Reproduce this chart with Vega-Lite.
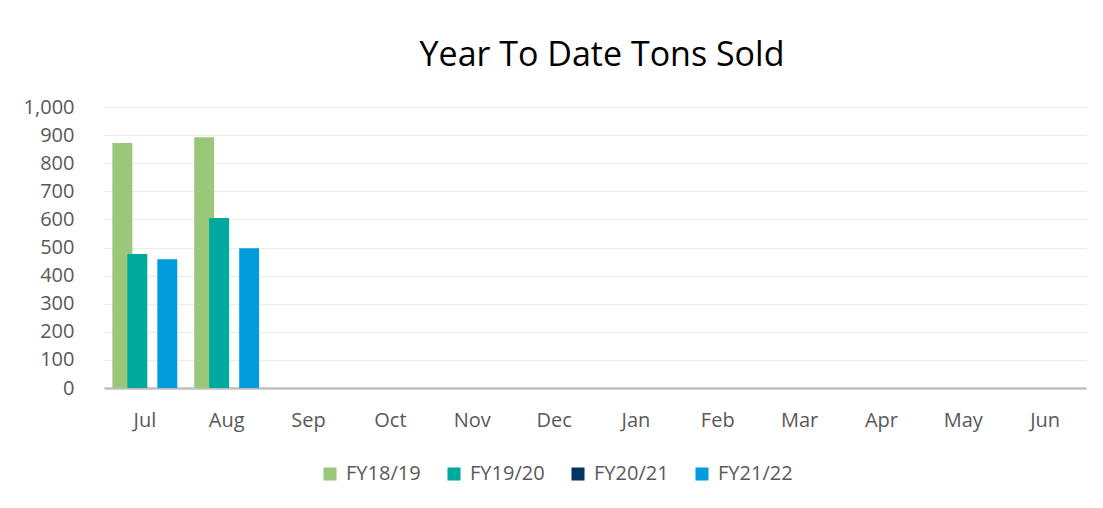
{
  "$schema": "https://vega.github.io/schema/vega-lite/v6.json",
  "autosize": "none",
  "width": 982,
  "height": 281,
  "padding": {"left": 104, "top": 107, "right": 17, "bottom": 120},
  "background": "white",
  "title": {
    "text": "Year To Date Tons Sold",
    "font": "Open Sans",
    "fontSize": 34,
    "fontWeight": "normal",
    "color": "#000000",
    "offset": 24,
    "dx": 7
  },
  "config": {
    "view": {"stroke": null},
    "axis": {"labelFont": "Open Sans", "labelFontSize": 20, "labelColor": "#595959"},
    "legend": {"labelFont": "Open Sans", "labelFontSize": 20, "labelColor": "#595959"}
  },
  "data": {
    "values": [
      {"month": "Jul", "series": "FY18/19", "tons": 872},
      {"month": "Aug", "series": "FY18/19", "tons": 892},
      {"month": "Jul", "series": "FY19/20", "tons": 477},
      {"month": "Aug", "series": "FY19/20", "tons": 605},
      {"month": "Jul", "series": "FY20/21", "tons": 0},
      {"month": "Aug", "series": "FY20/21", "tons": 0},
      {"month": "Jul", "series": "FY21/22", "tons": 458},
      {"month": "Aug", "series": "FY21/22", "tons": 497}
    ]
  },
  "mark": {"type": "bar", "width": {"band": 1.33}},
  "encoding": {
    "x": {
      "field": "month",
      "type": "nominal",
      "sort": null,
      "scale": {"domain": ["Jul","Aug","Sep","Oct","Nov","Dec","Jan","Feb","Mar","Apr","May","Jun"], "paddingInner": 0, "paddingOuter": 0},
      "axis": {"title": null, "labelAngle": 0, "ticks": false, "labelPadding": 22, "domainColor": "#BFBFBF", "domainWidth": 2.5, "grid": false}
    },
    "xOffset": {
      "field": "series",
      "type": "nominal",
      "scale": {"domain": ["FY18/19","FY19/20","FY20/21","FY21/22"], "paddingInner": 0, "paddingOuter": 0.73, "align": 1}
    },
    "y": {
      "field": "tons",
      "type": "quantitative",
      "scale": {"domain": [0, 1000]},
      "axis": {"title": null, "values": [0,100,200,300,400,500,600,700,800,900,1000], "format": ",.0f", "ticks": false, "domain": false, "labelPadding": 30, "gridColor": "#EBEBEB", "gridWidth": 1}
    },
    "color": {
      "field": "series",
      "type": "nominal",
      "scale": {"domain": ["FY18/19","FY19/20","FY20/21","FY21/22"], "range": ["#9BC77A","#00A99D","#003660","#009CDE"]},
      "legend": {"title": null, "orient": "none", "legendX": 216, "legendY": 357, "direction": "horizontal", "symbolType": "square", "symbolSize": 170, "symbolStrokeWidth": 0, "symbolOpacity": 1, "columnPadding": 23, "labelOffset": 6}
    }
  }
}
